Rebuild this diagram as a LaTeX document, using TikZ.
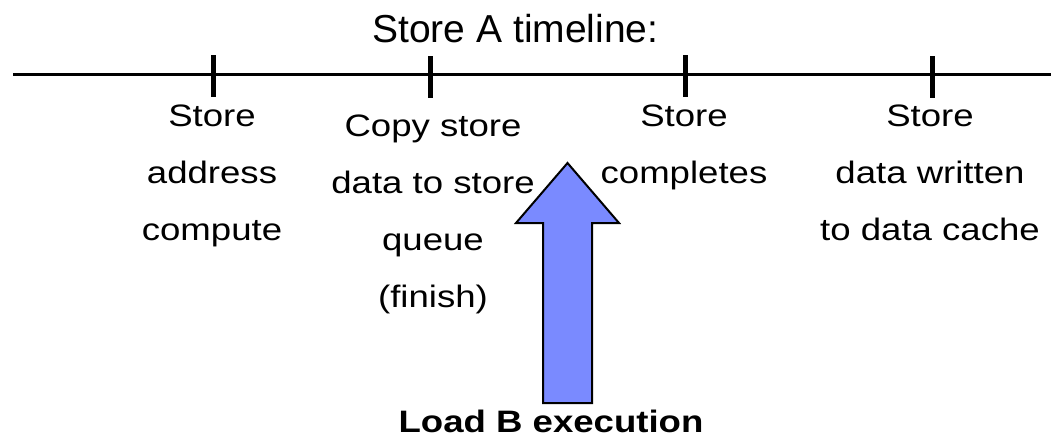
\documentclass[tikz,border=0pt]{standalone}
\usepackage{fontspec}
\setmainfont{Liberation Sans}
\newfontfamily\widesans[FakeStretch=1.18]{Liberation Sans}
\definecolor{loadblue}{RGB}{122,138,255}
\begin{document}
\begin{tikzpicture}[x=1pt,y=-1pt,
  eventtext/.style={align=center,anchor=north,inner sep=0pt,
    font=\widesans\fontsize{31}{57}\selectfont},
  tickmark/.style={line width=5pt}]
\useasboundingbox (0,0) rectangle (1051,439);
\node[anchor=base,inner sep=0pt,font=\fontsize{39}{47}\selectfont] (title) at (515.5,42) {Store A timeline:};
\draw[line width=3pt] (13,74) -- (1051,74);
\draw[tickmark] (213,55) -- (213,97);
\draw[tickmark] (430,56) -- (430,98);
\draw[tickmark] (685,55) -- (685,97);
\draw[tickmark] (932,56) -- (932,98);
\node[eventtext] (addr) at (212,105) {Store\\address\\compute};
\node[eventtext] (copy) at (433,115) {Copy store\\data to store\\queue\\(finish)};
\node[eventtext] (done) at (684,105) {Store\\completes};
\node[eventtext] (cache) at (930,105) {Store\\data written\\to data cache};
\draw[line width=2pt,fill=loadblue] (567.5,163) -- (619,223) -- (592,223) -- (592,403)
  -- (543,403) -- (543,223) -- (516,223) -- cycle;
\node[anchor=base,inner sep=0pt,font=\widesans\bfseries\fontsize{31}{37}\selectfont] (load) at (551,432) {Load B execution};
\end{tikzpicture}
\end{document}
